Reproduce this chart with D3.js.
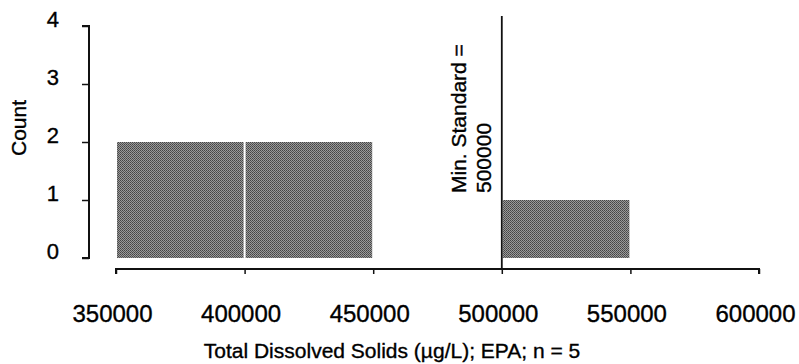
<!DOCTYPE html>
<html><head><meta charset="utf-8">
<script src="https://cdn.jsdelivr.net/npm/d3@7"></script>
<style>body{margin:0;background:#fff}svg{display:block}text{font-family:"Liberation Sans",Arial,sans-serif;fill:#000;stroke:#000;stroke-width:0.35px}</style>
</head><body>
<svg id="c" width="799" height="364"></svg>
<script>
const binStarts = [350000, 400000, 500000];
const binEnds = [400000, 450000, 550000];
const counts = [2, 2, 1];
const xTicks = [350000, 400000, 450000, 500000, 550000, 600000];
const yTicks = [0, 1, 2, 3, 4];
const standardValue = 500000;
const standardLines = ["Min. Standard =", "500000"];
const xTitle = "Total Dissolved Solids (\u00b5g/L); EPA; n = 5";
const yTitle = "Count";

const svg = d3.select("#c");
const x = d3.scaleLinear().domain([350000, 600000]).range([116, 759]);
const y = d3.scaleLinear().domain([0, 4]).range([258, 26]);

const defs = svg.append("defs");
const pat = defs.append("pattern").attr("id","ht").attr("width",2).attr("height",2).attr("patternUnits","userSpaceOnUse");
pat.append("rect").attr("width",2).attr("height",2).attr("fill","#9a9a9a");
pat.append("rect").attr("width",1).attr("height",1).attr("fill","#444");
pat.append("rect").attr("x",1).attr("y",1).attr("width",1).attr("height",1).attr("fill","#555");

const data = counts.map((c,i)=>({x0:binStarts[i], x1:binEnds[i], c}));
svg.append("g").selectAll("rect").data(data).join("rect")
  .attr("x", d=>x(d.x0)+1)
  .attr("width", d=>x(d.x1)-x(d.x0)-2)
  .attr("y", d=>y(d.c))
  .attr("height", d=>y(0)-y(d.c))
  .attr("fill","url(#ht)");

// y axis
const ya = d3.axisLeft(y).tickValues(yTicks).tickSize(7).tickPadding(23).tickFormat(d3.format("d"));
const yg = svg.append("g").attr("transform","translate(89,0)").call(ya);
yg.select(".domain").attr("stroke","#111").attr("stroke-width",2).attr("d","M-7,"+y(4)+"H0V"+y(0)+"H-7");
yg.selectAll(".tick line").attr("stroke","#111").attr("stroke-width",1.5);
yg.selectAll("text").style("font-size","22px").attr("dy","0.0em");

// x axis
const xa = d3.axisBottom(x).tickValues(xTicks).tickSize(5).tickPadding(31).tickFormat(d3.format("d"));
const xg = svg.append("g").attr("transform","translate(0,269)").call(xa);
xg.select(".domain").attr("stroke","#111").attr("stroke-width",2).attr("d","M"+x(350000)+",5V0H"+x(600000)+"V5");
xg.selectAll(".tick line").attr("stroke","#111").attr("stroke-width",1.5);
xg.selectAll("text").style("font-size","24px").attr("x",-4);

// standard line
svg.append("line").attr("x1",x(standardValue)).attr("x2",x(standardValue))
  .attr("y1",16).attr("y2",269).attr("stroke","#111").attr("stroke-width",1.8);

const st = svg.append("text").attr("transform","translate(466,193) rotate(-90)").style("font-size","21px");
st.selectAll("tspan").data(standardLines).join("tspan")
  .attr("x",0).attr("dy",(d,i)=>i===0?0:"1.18em").text(d=>d);

svg.append("text").attr("transform","translate(26,128) rotate(-90)").attr("text-anchor","middle")
  .style("font-size","21px").text(yTitle);
svg.append("text").attr("x",392).attr("y",358).attr("text-anchor","middle")
  .style("font-size","21px").text(xTitle);
</script>
</body></html>
